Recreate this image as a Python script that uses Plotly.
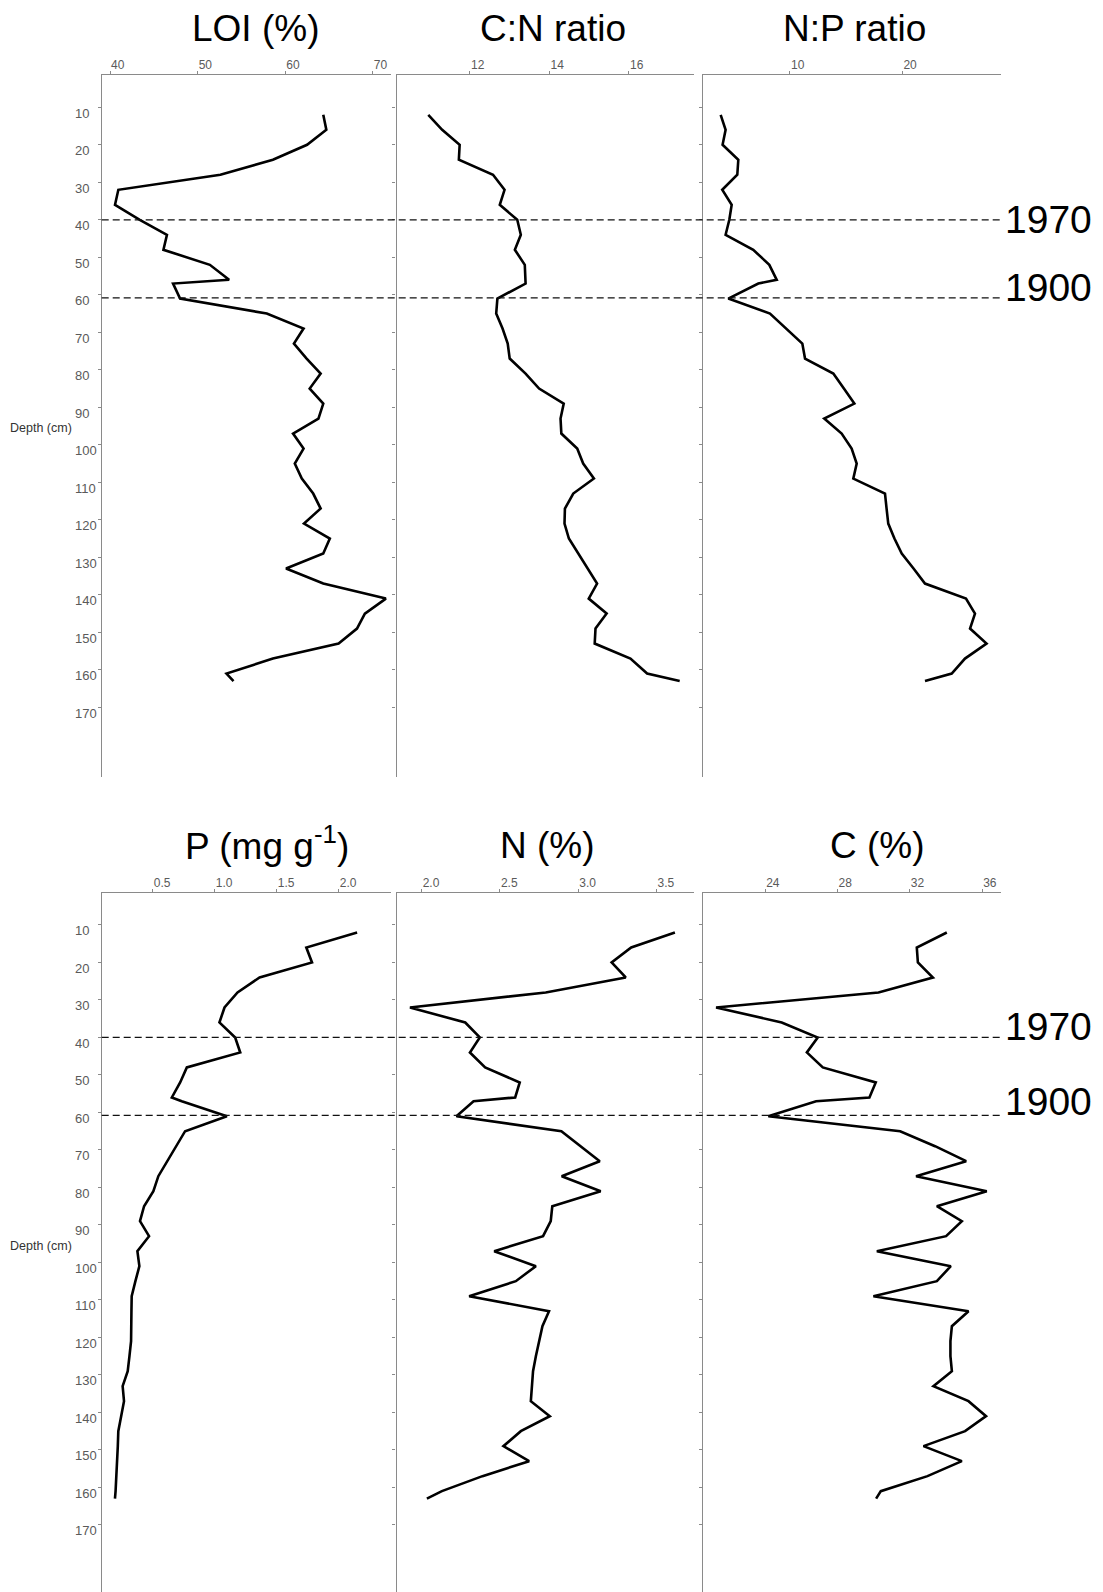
import plotly.graph_objects as go

W, H = 1103, 1592

depth = [12, 16, 20, 24, 28, 32, 36, 40, 44, 48, 52, 56, 57, 61, 65, 69, 73, 77, 81, 85,
         89, 93, 97, 101, 105, 109, 113, 117, 121, 125, 129, 133, 137, 141, 145, 149, 153, 157, 161, 163]

loi = [64.35, 64.7, 62.5, 58.6, 52.6, 40.95, 40.57, 43.4, 46.5, 46.1,
       51.4, 53.6, 47.2, 48.0, 57.9, 62.1, 61.0, 62.45, 64.05, 62.8,
       64.35, 63.8, 60.9, 62.1, 61.1, 61.9, 63.2, 64.05, 62.15, 65.1,
       64.35, 60.1, 64.35, 71.5, 69.1, 68.2, 66.1, 58.6, 53.3, 54.1]
cn_ratio = [10.95, 11.3, 11.74, 11.72, 12.58, 12.87, 12.75, 13.19, 13.28, 13.13,
            13.38, 13.39, 13.40, 12.69, 12.66, 12.82, 12.95, 13.0, 13.4, 13.74,
            14.36, 14.28, 14.3, 14.7, 14.85, 15.12, 14.6, 14.39, 14.38, 14.49,
            14.73, 14.97, 15.2, 14.99, 15.44, 15.16, 15.14, 16.04, 16.46, 17.28]
np_ratio = [3.83, 4.27, 4.0, 5.4, 5.31, 3.97, 4.81, 4.6, 4.27, 6.73,
            8.16, 8.82, 7.18, 4.51, 8.22, 9.7, 11.1, 11.34, 13.86, 14.8,
            15.73, 13.05, 14.6, 15.49, 15.94, 15.64, 18.46, 18.6, 18.75, 19.3,
            19.95, 21.0, 22.02, 25.67, 26.47, 26.03, 27.5, 25.58, 24.4, 22.02]
p_mg = [2.149, 1.739, 1.785, 1.362, 1.184, 1.079, 1.038, 1.165, 1.206, 0.775,
        0.721, 0.654, 0.734, 1.098, 0.761, 0.69, 0.613, 0.545, 0.505, 0.43,
        0.397, 0.47, 0.376, 0.392, 0.36, 0.33, 0.328, 0.326, 0.325, 0.312,
        0.298, 0.257, 0.268, 0.245, 0.222, 0.218, 0.214, 0.21, 0.2, 0.195]
n_pct = [3.618, 3.339, 3.214, 3.304, 2.793, 1.926, 2.279, 2.372, 2.309, 2.406,
         2.627, 2.598, 2.332, 2.223, 2.893, 3.015, 3.138, 2.895, 3.144, 2.835,
         2.825, 2.776, 2.464, 2.73, 2.602, 2.304, 2.814, 2.772, 2.75, 2.73,
         2.712, 2.705, 2.698, 2.819, 2.634, 2.523, 2.687, 2.389, 2.13, 2.034]
c_pct = [34.05, 32.39, 32.45, 33.28, 30.27, 21.29, 24.92, 26.91, 26.31, 27.19,
         30.12, 29.77, 26.82, 24.18, 31.47, 33.4, 35.12, 32.35, 36.26, 33.5,
         34.88, 34.01, 30.18, 34.27, 33.5, 29.99, 35.25, 34.33, 34.25, 34.25,
         34.33, 33.31, 35.25, 36.22, 35.06, 32.76, 34.88, 32.98, 30.4, 30.14]

titles = ["LOI (%)", "C:N ratio", "N:P ratio", "P (mg g<sup>-1</sup>)", "N (%)", "C (%)"]
xtickvals = [[40, 50, 60, 70], [12, 14, 16], [10, 20],
             [0.5, 1.0, 1.5, 2.0], [2.0, 2.5, 3.0, 3.5], [24, 28, 32, 36]]
xticktext = [["40", "50", "60", "70"], ["12", "14", "16"], ["10", "20"],
             ["0.5", "1.0", "1.5", "2.0"], ["2.0", "2.5", "3.0", "3.5"], ["24", "28", "32", "36"]]
depth_ticks = list(range(10, 171, 10))
event_depths = [40, 60.8]
event_labels = ["1970", "1900"]

series = [loi, cn_ratio, np_ratio, p_mg, n_pct, c_pct]

# layout geometry (pixels)
xdoms_px = [(101.7, 390.7), (396.5, 694.0), (702.7, 1000.7)]
ydoms_px = [(75.0, 776.7), (893.3, 1592.0)]
xranges = [[39.05, 72.05], [10.15, 17.64], [2.23, 28.76],
           [0.088, 2.42], [1.84, 3.74], [20.55, 37.03]]
yranges = [[188.5, 1.39], [187.9, 1.55]]

AX = "#8a8a8a"
TICKC = "#5a5a5a"
FONT = "Liberation Sans, Arial, sans-serif"

fig = go.Figure()
layout = dict(width=W, height=H, margin=dict(l=0, r=0, t=0, b=0),
              paper_bgcolor="white", plot_bgcolor="white", showlegend=False,
              font=dict(family=FONT))

for i in range(6):
    row, col = divmod(i, 3)
    n = i + 1
    xa = "x" if n == 1 else f"x{n}"
    ya = "y" if n == 1 else f"y{n}"
    fig.add_trace(go.Scatter(x=series[i], y=depth, mode="lines",
                             line=dict(color="black", width=2.6),
                             xaxis=xa, yaxis=ya, hoverinfo="skip"))
    x0, x1 = xdoms_px[col]
    ytop, ybot = ydoms_px[row]
    kx = "xaxis" if n == 1 else f"xaxis{n}"
    ky = "yaxis" if n == 1 else f"yaxis{n}"
    layout[kx] = dict(domain=[x0 / W, x1 / W], range=xranges[i], side="top",
                      anchor=ya, showgrid=False, zeroline=False, showline=True,
                      linecolor=AX, linewidth=1.2, ticks="outside", ticklen=3,
                      tickcolor=AX, tickwidth=1, tickvals=xtickvals[i],
                      ticktext=xticktext[i], ticklabelposition="outside right",
                      tickfont=dict(size=12, color=TICKC, family=FONT))
    layout[ky] = dict(domain=[1 - ybot / H, 1 - ytop / H], range=yranges[row],
                      anchor=xa, showgrid=False, zeroline=False, showline=True,
                      linecolor=AX, linewidth=1.2, ticks="outside", ticklen=3,
                      tickcolor=AX, tickwidth=1, tickvals=depth_ticks,
                      showticklabels=False)

fig.update_layout(**layout)

# dashed event lines across each row
shapes = []
for row, yref in enumerate(["y", "y4"]):
    for d in event_depths:
        shapes.append(dict(type="line", xref="paper", yref=yref,
                           x0=101.7 / W, x1=1001.0 / W, y0=d, y1=d,
                           line=dict(color="#111111", width=1.3, dash="7px,4px")))
fig.update_layout(shapes=shapes)

ann = []
# depth tick labels (left-aligned, just below each tick, as in the original)
for yref in ["y", "y4"]:
    for v in depth_ticks:
        ann.append(dict(text=str(v), xref="paper", yref=yref, x=72.5 / W, y=v,
                        xanchor="left", yanchor="middle", yshift=-6, showarrow=False,
                        font=dict(size=13, color=TICKC, family=FONT)))
# panel titles
title_cx = [255, 552.8, 854.5, 267.2, 547.5, 877.5]
title_base = [41, 41, 41, 858.5, 857, 857]
for i in range(6):
    ann.append(dict(text=titles[i], xref="paper", yref="paper",
                    x=title_cx[i] / W, y=1 - (title_base[i] + 10.5) / H,
                    xanchor="center", yanchor="bottom", showarrow=False,
                    font=dict(size=37, color="black", family=FONT)))
# event labels (left x, vertical centre px)
ev_pos = [(1003, 220.0), (1003, 287.5), (1003, 1026.0), (1003, 1101.5)]
ev_txt = event_labels + event_labels
for (lx, cy), t in zip(ev_pos, ev_txt):
    ann.append(dict(text=t, xref="paper", yref="paper", x=lx / W, y=1 - cy / H,
                    xanchor="left", yanchor="middle", showarrow=False,
                    font=dict(size=39, color="black", family=FONT)))
# depth axis labels
for cy in [427.6, 1245.5]:
    ann.append(dict(text="Depth (cm)", xref="paper", yref="paper", x=41 / W,
                    y=1 - cy / H, xanchor="center", yanchor="middle", showarrow=False,
                    font=dict(size=12.5, color="#333333", family=FONT)))
fig.update_layout(annotations=ann)

fig.write_html("out.html", config={"displayModeBar": False},
               post_script="document.body.style.margin='0px';")
